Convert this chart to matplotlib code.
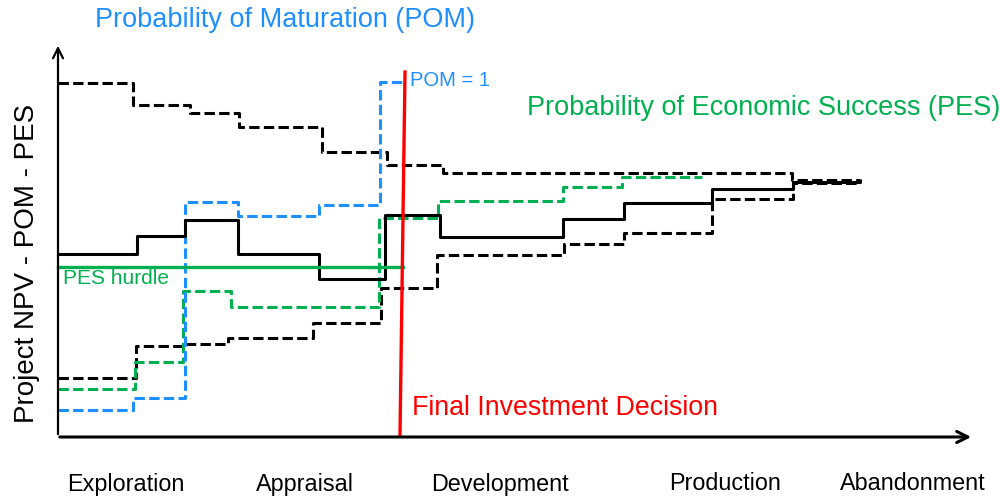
import matplotlib.pyplot as plt

plt.rcParams["font.family"] = ["Liberation Sans", "DejaVu Sans"]

# step curves (x = time along the project, y = level, pixel-like units, y grows downward)
npv_x = [58, 137, 185, 238, 319, 385, 440, 563, 624, 712, 793, 860]
npv_y = [254, 236, 220, 254, 279, 215, 237, 219, 203, 189, 182, 181]

npv_hi_x = [58, 133, 190, 239, 322, 387, 443, 792, 860]
npv_hi_y = [83, 105, 113, 127, 152, 165, 173, 180, 179]

npv_lo_x = [58, 136, 183, 228, 313, 381, 437, 564, 624, 712, 793, 860]
npv_lo_y = [378, 346, 344, 338, 323, 288, 255, 244, 233, 199, 183, 183]

pes_x = [58, 135, 183, 231, 379, 438, 563, 622, 702]
pes_y = [389, 362, 291, 307, 218, 201, 187, 177, 177]

pom_x = [58, 133, 185, 238, 319, 380, 403]
pom_y = [410, 398, 202, 216, 205, 82, 82]

pes_hurdle = 267
fid_x = [405, 400]
fid_y = [72, 435]

phases = ["Exploration", "Appraisal", "Development", "Production", "Abandonment"]
phase_x = [126, 305, 500, 725, 913]

blue = "#1E8FFF"
green = "#00B050"
red = "#FF0000"

fig = plt.figure(figsize=(10, 4.96), dpi=100)
ax = fig.add_axes([0, 0, 1, 1])
ax.set_xlim(0, 1000)
ax.set_ylim(496, 0)
ax.axis("off")

# axes with arrows
ax.annotate("", xy=(58, 43), xytext=(58, 437),
            arrowprops=dict(arrowstyle="->", lw=1.6, color="black", mutation_scale=18))
ax.annotate("", xy=(974, 437), xytext=(57, 437),
            arrowprops=dict(arrowstyle="->", lw=2.2, color="black", mutation_scale=20))

dash = (3.4, 1.4)
ax.plot(npv_hi_x, npv_hi_y, drawstyle="steps-post", color="black", lw=2.2, dashes=dash)
ax.plot(npv_lo_x, npv_lo_y, drawstyle="steps-post", color="black", lw=2.2, dashes=dash)
ax.plot(pes_x, pes_y, drawstyle="steps-post", color=green, lw=2.2, dashes=dash)
ax.plot(pom_x, pom_y, drawstyle="steps-post", color=blue, lw=2.2, dashes=dash)
ax.plot(npv_x, npv_y, drawstyle="steps-post", color="black", lw=2.2)

ax.plot([58, 403], [pes_hurdle, pes_hurdle], color=green, lw=2.4)
ax.plot(fid_x, fid_y, color=red, lw=2.4)

ax.text(95, 20, "Probability of Maturation (POM)", color=blue, fontsize=19.5, va="center")
ax.text(410, 80, "POM = 1", color=blue, fontsize=14.5, va="center")
ax.text(527, 108, "Probability of Economic Success (PES)", color=green, fontsize=19.5,
        va="center")
ax.text(63, 279, "PES hurdle", color=green, fontsize=15, va="center")
ax.text(412, 408, "Final Investment Decision", color=red, fontsize=19.3, va="center")
ax.text(27, 263, "Project NPV - POM - PES", color="black", fontsize=20,
        rotation=90, ha="center", va="center")

for name, px in zip(phases, phase_x):
    ax.text(px, 484, name, fontsize=16.8, ha="center", va="center")

fig.savefig("out.png", dpi=100)
